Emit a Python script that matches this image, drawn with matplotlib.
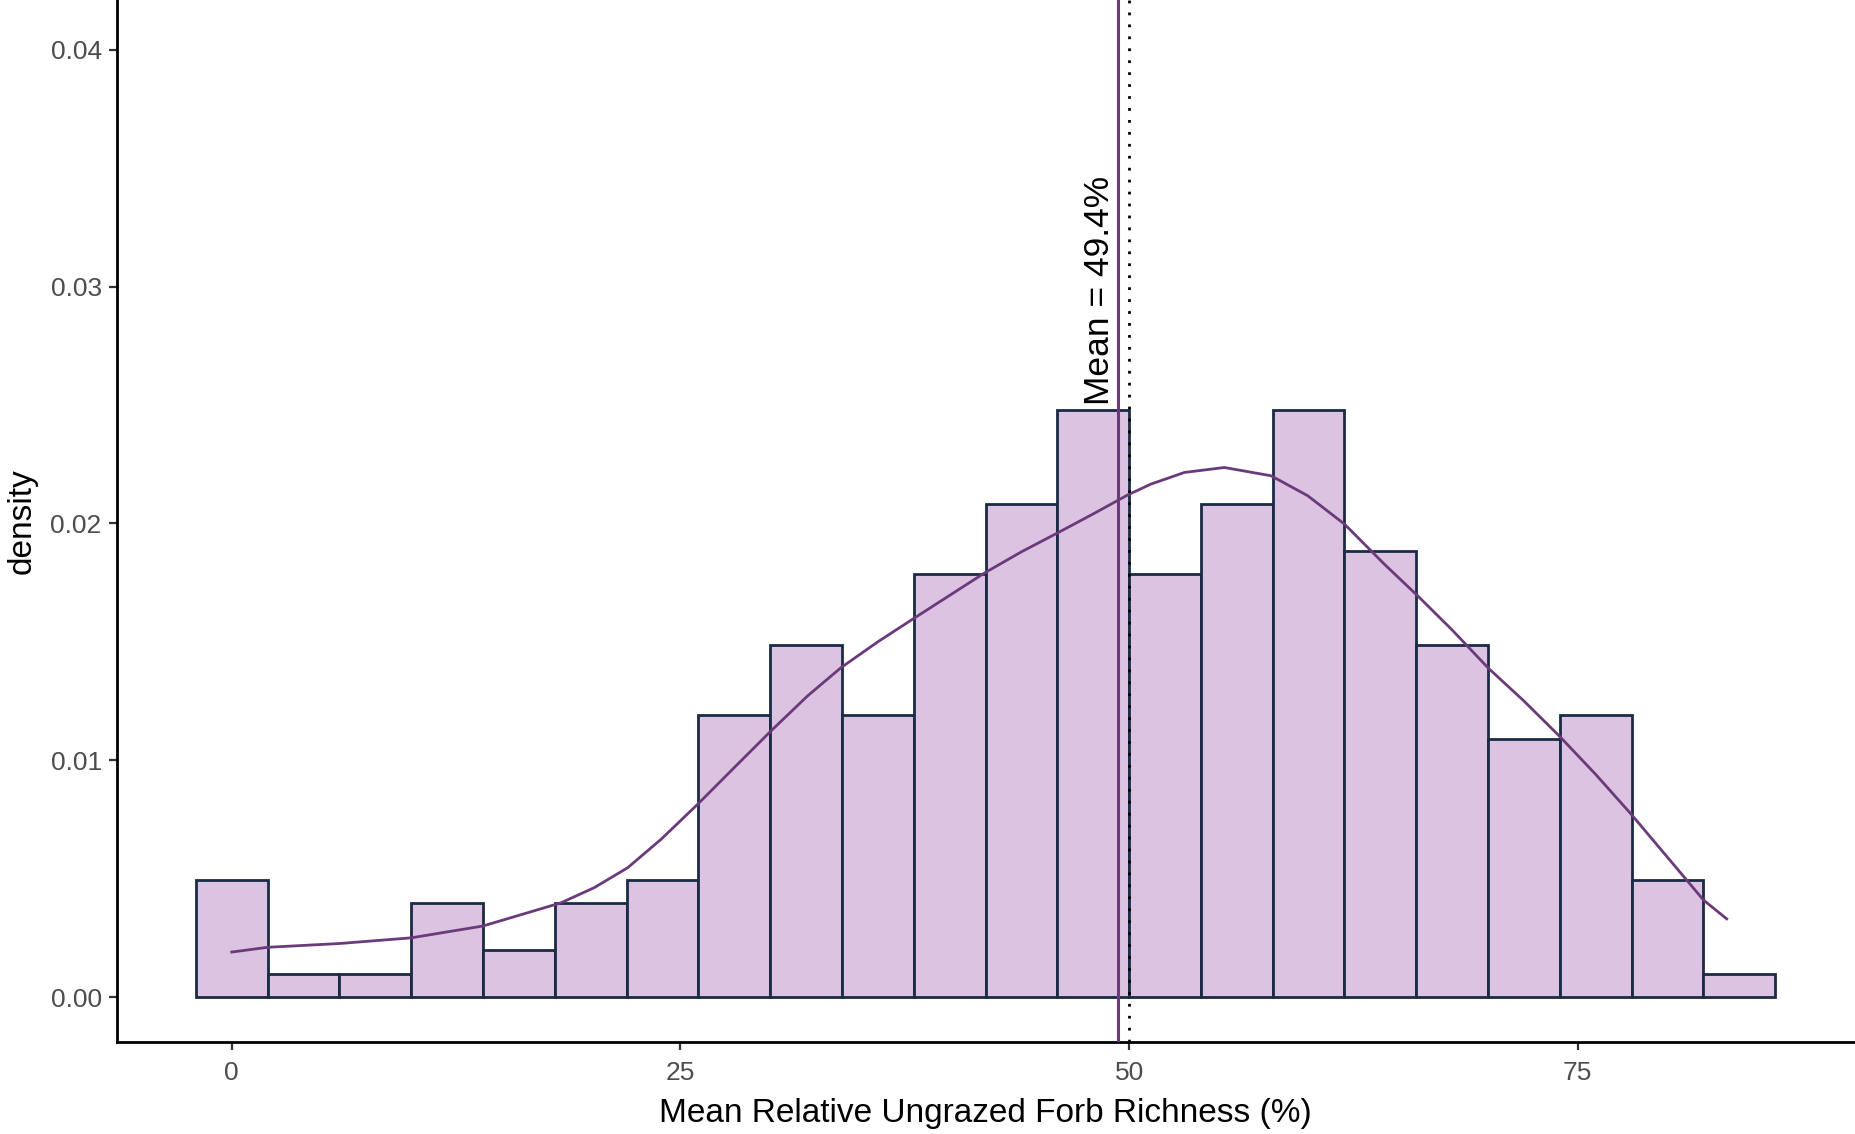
import numpy as np
import matplotlib
matplotlib.use('Agg')
import matplotlib.pyplot as plt

plt.rcParams['font.family'] = ['Liberation Sans', 'DejaVu Sans']

# Histogram: bins of width 4 starting at -2, counts per bin
bin_edges = [-2, 2, 6, 10, 14, 18, 22, 26, 30, 34, 38, 42, 46,
             50, 54, 58, 62, 66, 70, 74, 78, 82, 86]
counts = [5, 1, 1, 4, 2, 4, 5, 12, 15, 12, 18, 21, 25,
          18, 21, 25, 19, 15, 11, 12, 5, 1]

# Density curve
curve_x = [0, 2, 6, 10, 14, 18.35, 20.2, 22.06, 23.92, 25.96, 28.0,
           30.05, 32.09, 33.95, 36, 38.03, 41.93, 44, 46.02, 48, 49.92,
           51.22, 53.08, 55.31, 57.91, 59.95, 62.0, 64.22, 66.08, 68,
           70, 72, 74, 76, 78, 80, 82, 83.3]
curve_y = [0.0019, 0.0021, 0.00226, 0.0025, 0.0030, 0.00398, 0.00462,
           0.00546, 0.00666, 0.00814, 0.00969, 0.01124, 0.01272, 0.01391,
           0.0150, 0.0160, 0.0179, 0.0188, 0.0196, 0.0204, 0.0212,
           0.02166, 0.02215, 0.02236, 0.02201, 0.02117, 0.01997, 0.01828,
           0.01694, 0.0155, 0.0139, 0.0125, 0.0110, 0.0094, 0.0077,
           0.0059, 0.0041, 0.0033]

mean_val = 49.4
median_val = 50.0

x_ticks = [0, 25, 50, 75]
y_ticks = [0.00, 0.01, 0.02, 0.03, 0.04]

fill_col = '#dbc3e1'
edge_col = '#1b2a45'
purple = '#6b3a7b'

edges = np.array(bin_edges)
dens = np.array(counts) / (np.sum(counts) * np.diff(edges))

fig = plt.figure(figsize=(18.56, 11.34), dpi=100)
ax = fig.add_axes([0.063, 0.0811, 0.936, 0.9189])

ax.bar(edges[:-1], dens, width=np.diff(edges), align='edge',
       color=fill_col, edgecolor=edge_col, linewidth=2.0, zorder=2)
ax.plot(curve_x, curve_y, color=purple, lw=2.0, zorder=3)
ax.axvline(mean_val, color=purple, lw=2.2, zorder=4)
ax.axvline(median_val, color='black', lw=2.0, linestyle=(0, (1, 3.3)), zorder=4)

ax.text(mean_val - 0.15, 0.0250, 'Mean = 49.4%', rotation=90,
        ha='right', va='bottom', fontsize=25.5, color='black', zorder=5)

ax.set_xlim(-6.4, 90.4)
ax.set_ylim(-0.0019, 0.0421)
ax.set_xticks(x_ticks)
ax.set_xticklabels([str(t) for t in x_ticks])
ax.set_yticks(y_ticks)
ax.set_yticklabels(['%.2f' % t for t in y_ticks])

for s in ['top', 'right']:
    ax.spines[s].set_visible(False)
for s in ['left', 'bottom']:
    ax.spines[s].set_linewidth(2.0)
    ax.spines[s].set_color('black')

ax.tick_params(axis='both', length=6, width=1.6, color='#333333',
               labelsize=19, labelcolor='#4d4d4d')
ax.tick_params(axis='x', pad=8)
ax.tick_params(axis='y', pad=5)

ax.set_xlabel('Mean Relative Ungrazed Forb Richness (%)', fontsize=24)
ax.set_ylabel('density', fontsize=24)
ax.xaxis.set_label_coords(0.5, -0.054)
ax.yaxis.set_label_coords(-0.0455, 0.5)

fig.savefig('out.png', dpi=100, facecolor='white')
